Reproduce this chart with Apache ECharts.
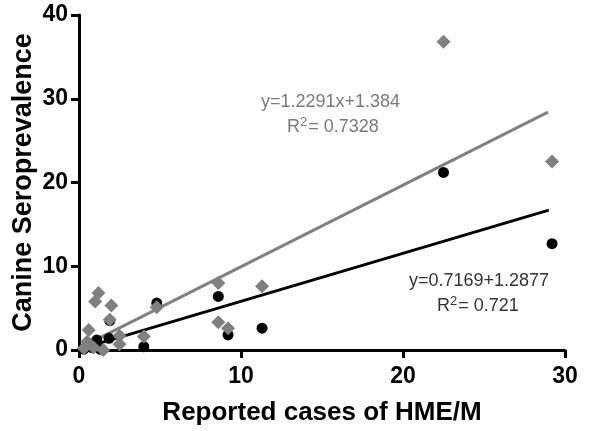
<!DOCTYPE html>
<html>
<head>
<meta charset="utf-8">
<script src="https://cdn.jsdelivr.net/npm/echarts@6/dist/echarts.min.js"></script>
<style>
html,body{margin:0;padding:0;background:#fff;}
#chart{width:600px;height:431px;}
</style>
</head>
<body>
<div id="chart"></div>
<script>
// Black circles: [Reported cases of HME/M, Canine Seroprevalence]
const blackPoints = [
  [29.2, 12.7], [22.5, 21.2], [11.3, 2.6], [8.6, 6.4], [9.2, 1.8],
  [4.8, 5.6], [4.0, 0.4], [1.9, 3.5], [1.1, 1.2], [1.85, 1.4],
  [0.6, 0.8], [0.3, 0.1], [0.8, 0.3], [1.3, 0.1]
];
// Gray diamonds
const grayPoints = [
  [29.2, 22.5], [22.5, 36.8], [11.3, 7.6], [8.6, 8.0], [8.6, 3.3],
  [9.2, 2.6], [4.8, 5.1], [4.0, 1.6], [1.2, 6.8], [1.0, 5.8],
  [2.0, 5.3], [1.9, 3.6], [0.6, 2.4], [2.5, 1.7], [2.5, 0.7],
  [0.3, 0.2], [0.9, 0.3], [1.5, 0.0], [0.5, 1.0]
];
// Fitted lines as drawn (endpoints)
const grayLine = [[0.3, 0.5], [28.95, 28.4]];
const blackLine = [[0.3, 0.25], [29.0, 16.7]];

const xTicks = [0, 10, 20, 30];
const yTicks = [0, 10, 20, 30, 40];
const grayEq = 'y=1.2291x+1.384';
const grayR2 = '0.7328';
const blackEq = 'y=0.7169+1.2877';
const blackR2 = '0.721';
const xTitle = 'Reported cases of HME/M';
const yTitle = 'Canine Seroprevalence';

const FONT = 'Arial, "Liberation Sans", sans-serif';
const chart = echarts.init(document.getElementById('chart'), null, {renderer: 'canvas'});

function r2Text(v) { return '{a|R}{s|2}{a|= ' + v + '}'; }
function r2Rich(color) {
  return {
    a: {fontSize: 18, fontFamily: FONT, fill: color, color: color},
    s: {fontSize: 13, fontFamily: FONT, fill: color, color: color, padding: [0, 1, 9, 0]}
  };
}

chart.setOption({
  animation: false,
  backgroundColor: '#fff',
  grid: {left: 79, right: 35, top: 15, bottom: 81, containLabel: false, outerBoundsMode: 'none'},
  xAxis: {
    type: 'value', min: xTicks[0], max: xTicks[xTicks.length - 1], interval: 10,
    axisLine: {lineStyle: {color: '#000', width: 3}},
    axisTick: {show: true, length: 8, lineStyle: {color: '#000', width: 3}},
    axisLabel: {color: '#000', fontSize: 23, fontWeight: 'bold', fontFamily: FONT, margin: 15},
    splitLine: {show: false},
    name: xTitle, nameLocation: 'middle', nameGap: 50, nameMoveOverlap: false,
    nameTextStyle: {color: '#000', fontSize: 26, fontWeight: 'bold', fontFamily: FONT}
  },
  yAxis: {
    type: 'value', min: yTicks[0], max: yTicks[yTicks.length - 1], interval: 10,
    axisLine: {show: true, lineStyle: {color: '#000', width: 3}},
    axisTick: {show: true, length: 8, lineStyle: {color: '#000', width: 3}},
    axisLabel: {color: '#000', fontSize: 23, fontWeight: 'bold', fontFamily: FONT, margin: 11},
    splitLine: {show: false},
    name: yTitle, nameLocation: 'middle', nameGap: 42, nameMoveOverlap: false,
    nameTextStyle: {color: '#000', fontSize: 27, fontWeight: 'bold', fontFamily: FONT}
  },
  series: [
    {type: 'line', data: grayLine, symbol: 'none', lineStyle: {color: '#808080', width: 3}, z: 2},
    {type: 'line', data: blackLine, symbol: 'none', lineStyle: {color: '#000', width: 3}, z: 2},
    {type: 'scatter', data: blackPoints, symbol: 'circle', symbolSize: 11,
     itemStyle: {color: '#000', opacity: 1}, z: 3},
    {type: 'scatter', data: grayPoints, symbol: 'diamond', symbolSize: 14,
     itemStyle: {color: '#808080', opacity: 1}, z: 4}
  ],
  graphic: [
    {type: 'text', left: 261, top: 93, z: 10,
     style: {text: grayEq, fontSize: 18, fontFamily: FONT, fill: '#7a7a7a'}},
    {type: 'text', left: 287, top: 116, z: 10,
     style: {text: r2Text(grayR2), rich: r2Rich('#7a7a7a'), fill: '#7a7a7a'}},
    {type: 'text', left: 409, top: 272, z: 10,
     style: {text: blackEq, fontSize: 18, fontFamily: FONT, fill: '#333'}},
    {type: 'text', left: 437, top: 295, z: 10,
     style: {text: r2Text(blackR2), rich: r2Rich('#333'), fill: '#333'}}
  ]
});
</script>
</body>
</html>
